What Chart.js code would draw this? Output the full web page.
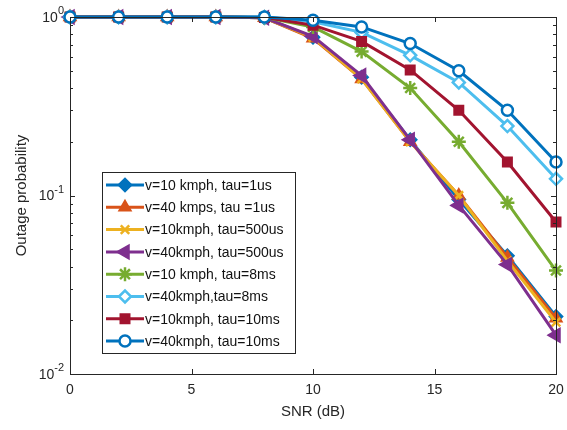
<!DOCTYPE html>
<html>
<head>
<meta charset="utf-8">
<script src="https://cdn.jsdelivr.net/npm/chart.js@4/dist/chart.umd.min.js"></script>
<style>
  html, body { margin: 0; padding: 0; background: #fff; }
  #wrap { width: 567px; height: 430px; }
</style>
</head>
<body>
<div id="wrap"><canvas id="chart" width="567" height="430"></canvas></div>
<script>
const snr = [0, 2, 4, 6, 8, 10, 12, 14, 16, 18, 20];

const v10tau1us   = [1, 1, 1, 1, 0.99, 0.77, 0.46, 0.205, 0.095, 0.046, 0.021];
const v40tau1us   = [1, 1, 1, 1, 0.99, 0.76, 0.45, 0.20, 0.10, 0.045, 0.0205];
const v10tau500us = [1, 1, 1, 1, 0.99, 0.77, 0.45, 0.20, 0.10, 0.043, 0.0195];
const v40tau500us = [1, 1, 1, 1, 0.99, 0.78, 0.47, 0.205, 0.088, 0.041, 0.0165];
const v10tau8ms   = [1, 1, 1, 1, 0.995, 0.88, 0.64, 0.40, 0.20, 0.091, 0.038];
const v40tau8ms   = [1, 1, 1, 1, 1, 0.94, 0.82, 0.61, 0.43, 0.245, 0.124];
const v10tau10ms  = [1, 1, 1, 1, 0.995, 0.90, 0.73, 0.505, 0.30, 0.154, 0.071];
const v40tau10ms  = [1, 1, 1, 1, 1, 0.96, 0.88, 0.71, 0.50, 0.30, 0.154];

const labels = [
  "v=10 kmph, tau=1us",
  "v=40 kmps, tau =1us",
  "v=10kmph, tau=500us",
  "v=40kmph, tau=500us",
  "v=10 kmph, tau=8ms",
  "v=40kmph,tau=8ms",
  "v=10kmph, tau=10ms",
  "v=40kmph, tau=10ms",
];

const xTicks = [0, 5, 10, 15, 20];
const yMajor = [1, 0.1, 0.01];
const yExp = ["0", "-1", "-2"];

const FONT = '"Liberation Sans", Arial, sans-serif';
const AX = "#262626";

const styles = [
  { color: "#0072BD", point: "rectRot", r: 6, fill: "#0072BD", rot: 0 },
  { color: "#D95319", point: "triangle", r: 6, fill: "#D95319", rot: 0 },
  { color: "#EDB120", point: "crossRot", r: 6, fill: "#EDB120", rot: 0 },
  { color: "#7E2F8E", point: "triangle", r: 7, fill: "#7E2F8E", rot: -90 },
  { color: "#77AC30", point: "star", r: 7, fill: "#77AC30", rot: 0 },
  { color: "#4DBEEE", point: "rectRot", r: 6, fill: "#ffffff", rot: 0 },
  { color: "#A2142F", point: "rect", r: 6, fill: "#A2142F", rot: 0 },
  { color: "#0072BD", point: "circle", r: 5.5, fill: "#ffffff", rot: 0 },
];

const series = [v10tau1us, v40tau1us, v10tau500us, v40tau500us,
                v10tau8ms, v40tau8ms, v10tau10ms, v40tau10ms];

const datasets = series.map((vals, i) => ({
  label: labels[i],
  data: vals.map((v, j) => ({ x: snr[j], y: v })),
  borderColor: styles[i].color,
  backgroundColor: styles[i].fill,
  borderWidth: 3,
  pointStyle: styles[i].point,
  pointRadius: styles[i].r,
  pointRotation: styles[i].rot,
  pointBorderWidth: 2.5,
  pointBorderColor: styles[i].color,
  pointBackgroundColor: styles[i].fill,
  tension: 0,
  clip: false,
  order: series.length - 1 - i,
}));

// axes box, inward ticks, tick labels, titles, in-plot legend
const matlabAxes = {
  id: "matlabAxes",
  afterDatasetsDraw(c) {
    const ctx = c.ctx;
    const a = c.chartArea;
    const xs = c.scales.x, ys = c.scales.y;
    ctx.save();
    ctx.strokeStyle = AX;
    ctx.lineWidth = 1;
    ctx.beginPath();
    // x ticks top and bottom
    xTicks.forEach((t) => {
      const px = Math.round(xs.getPixelForValue(t)) + 0.5;
      ctx.moveTo(px, a.bottom); ctx.lineTo(px, a.bottom - 5);
      ctx.moveTo(px, a.top); ctx.lineTo(px, a.top + 5);
    });
    // y ticks, major and minor
    for (let d = 0.01; d < 1; d *= 10) {
      for (let k = 1; k <= 10; k++) {
        const v = d * k;
        const py = Math.round(ys.getPixelForValue(v)) + 0.5;
        const len = (k === 1 || k === 10) ? 5 : 3;
        ctx.moveTo(a.left, py); ctx.lineTo(a.left + len, py);
        ctx.moveTo(a.right, py); ctx.lineTo(a.right - len, py);
      }
    }
    ctx.stroke();
    ctx.strokeRect(Math.round(a.left) + 0.5, Math.round(a.top) + 0.5,
                   Math.round(a.right - a.left), Math.round(a.bottom - a.top));

    // x tick labels
    ctx.fillStyle = AX;
    ctx.font = `14px ${FONT}`;
    ctx.textAlign = "center";
    ctx.textBaseline = "middle";
    xTicks.forEach((t) => ctx.fillText(String(t), xs.getPixelForValue(t), a.bottom + 16));

    // y tick labels 10^n
    yMajor.forEach((v, i) => {
      const py = ys.getPixelForValue(v);
      ctx.font = `11px ${FONT}`;
      const ew = ctx.measureText(yExp[i]).width;
      ctx.textAlign = "left";
      ctx.textBaseline = "middle";
      const right = a.left - 6;
      ctx.fillText(yExp[i], right - ew, py - 6);
      ctx.font = `14px ${FONT}`;
      ctx.textAlign = "right";
      ctx.fillText("10", right - ew, py + 1);
    });

    // titles
    ctx.font = `15px ${FONT}`;
    ctx.textAlign = "center";
    ctx.textBaseline = "middle";
    ctx.fillText("SNR (dB)", (a.left + a.right) / 2, a.bottom + 38);
    ctx.save();
    ctx.translate(22, (a.top + a.bottom) / 2);
    ctx.rotate(-Math.PI / 2);
    ctx.fillText("Outage probability", 0, 0);
    ctx.restore();

    // legend
    const lx = 102, ly = 172, lw = 193, lh = 181;
    ctx.fillStyle = "#fff";
    ctx.fillRect(lx, ly, lw, lh);
    ctx.strokeStyle = AX;
    ctx.lineWidth = 1;
    ctx.strokeRect(lx + 0.5, ly + 0.5, lw, lh);
    c.data.datasets.forEach((ds, i) => {
      const cy = 185 + i * 22.3;
      ctx.strokeStyle = ds.borderColor;
      ctx.lineWidth = 3;
      ctx.beginPath();
      ctx.moveTo(lx + 4, cy); ctx.lineTo(lx + 42, cy);
      ctx.stroke();
      ctx.fillStyle = ds.pointBackgroundColor;
      ctx.strokeStyle = ds.pointBorderColor;
      ctx.lineWidth = ds.pointBorderWidth;
      Chart.helpers.drawPoint(ctx, {
        pointStyle: ds.pointStyle, radius: ds.pointRadius,
        rotation: ds.pointRotation, borderWidth: ds.pointBorderWidth,
      }, lx + 23, cy);
      ctx.fillStyle = "#111";
      ctx.font = `14px ${FONT}`;
      ctx.textAlign = "left";
      ctx.textBaseline = "middle";
      ctx.fillText(ds.label, lx + 43, cy + 1);
    });
    ctx.restore();
  },
};

new Chart(document.getElementById("chart"), {
  type: "line",
  data: { datasets },
  options: {
    responsive: false,
    animation: false,
    layout: { padding: { left: 70, right: 11, top: 17, bottom: 56 } },
    plugins: { legend: { display: false }, tooltip: { enabled: false } },
    scales: {
      x: { type: "linear", min: 0, max: 20, display: false },
      y: { type: "logarithmic", min: 0.01, max: 1, display: false },
    },
  },
  plugins: [matlabAxes],
});
</script>
</body>
</html>
